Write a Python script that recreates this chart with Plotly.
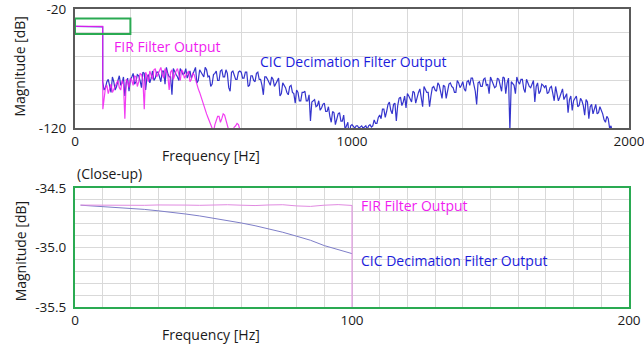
import plotly.graph_objects as go

# ---- passband (0-100 Hz), shown in both panels ----
pass_freq = [2, 5, 10, 15, 20, 25, 30, 35, 40, 45, 50, 55, 60, 65, 70, 75, 80, 85, 90, 95, 100]
fir_pass = [-34.645, -34.646, -34.644, -34.643, -34.645, -34.647, -34.644, -34.642, -34.645, -34.647,
            -34.644, -34.642, -34.646, -34.649, -34.644, -34.642, -34.652, -34.656, -34.646, -34.641, -34.648]
cic_pass = [-34.646, -34.650, -34.657, -34.664, -34.672, -34.681, -34.693, -34.705, -34.720, -34.736,
            -34.754, -34.772, -34.795, -34.818, -34.845, -34.873, -34.906, -34.940, -34.985, -35.020, -35.052]

# ---- FIR filter output above the passband edge (5 Hz bins) ----
fir_stop_freq = [100.5] + list(range(105, 605, 5))
fir_stop = [-104,
            -95, -86, -84, -91, -87, -83, -90, -88, -85, -82, -80, -86, -88, -80, -83, -112, -79, -81, -86, -78,
            -80, -84, -76, -77, -85, -81, -74, -75, -79, -104, -73, -76, -81, -72, -75, -79, -71, -70, -77, -74,
            -72, -69, -75, -78, -70, -72, -76, -88, -73, -71, -79, -75, -72, -70, -76, -80, -71, -73, -78, -76,
            -74, -72, -81, -79, -74, -75, -79, -84, -87, -90, -94, -97, -100, -104, -108, -111, -114, -118, -121, -123,
            -117, -113, -110, -110, -115, -112, -108, -109, -113, -118, -123, -126, -124, -121, -119, -118, -116, -117, -121, -125]

# ---- CIC decimation filter output above the passband edge (5 Hz bins) ----
cic_stop_freq = list(range(100, 1950, 5))
cic_stop = [
    -81, -88, -86, -81, -79, -84, -90, -77, -81, -88, -85, -80, -76, -84, -82, -77, -93, -82, -78, -89,
    -79, -77, -74, -83, -81, -75, -76, -80, -86, -73, -74, -88, -77, -75, -82, -78, -72, -80, -78, -73,
    -73, -77, -81, -72, -72, -83, -69, -74, -77, -77, -92, -70, -73, -75, -77, -80, -70, -72, -75, -74,
    -70, -78, -75, -72, -78, -75, -72, -69, -82, -80, -71, -73, -76, -77, -69, -71, -77, -76, -85, -83,
    -75, -74, -72, -80, -80, -72, -71, -77, -77, -71, -74, -86, -89, -73, -72, -76, -79, -79, -73, -72,
    -73, -78, -78, -73, -73, -85, -84, -76, -76, -80, -81, -74, -73, -79, -79, -84, -92, -77, -77, -79,
    -81, -84, -77, -79, -85, -83, -81, -78, -93, -91, -82, -84, -86, -90, -92, -85, -84, -90, -91, -99,
    -88, -90, -97, -97, -90, -90, -89, -97, -97, -92, -114, -98, -97, -96, -102, -101, -97, -105, -103, -100,
    -99, -106, -106, -102, -110, -115, -106, -107, -117, -113, -108, -107, -114, -114, -109, -121, -118, -115, -128, -118,
    -117, -119, -120, -118, -118, -120, -119, -118, -120, -119, -118, -121, -118, -117, -119, -118, -113, -116, -116, -111,
    -109, -112, -104, -104, -111, -106, -100, -98, -105, -108, -100, -99, -114, -101, -95, -94, -101, -98, -93, -103,
    -91, -93, -95, -98, -89, -90, -99, -94, -90, -87, -94, -102, -85, -88, -90, -90, -102, -93, -86, -85,
    -88, -89, -82, -84, -89, -95, -84, -85, -95, -89, -83, -82, -85, -86, -90, -90, -80, -82, -86, -84,
    -81, -87, -89, -81, -80, -84, -78, -78, -85, -89, -100, -82, -81, -85, -85, -79, -78, -84, -83, -91,
    -77, -80, -82, -86, -85, -78, -79, -83, -89, -77, -78, -91, -82, -78, -122, -81, -83, -84, -91, -77,
    -81, -83, -79, -79, -87, -90, -79, -82, -85, -86, -83, -80, -98, -85, -82, -91, -89, -83, -84, -86,
    -84, -91, -90, -86, -85, -90, -97, -85, -90, -97, -94, -91, -87, -96, -94, -91, -107, -96, -93, -105,
    -97, -95, -93, -102, -101, -95, -97, -101, -109, -96, -98, -112, -102, -100, -108, -104, -100, -108, -107, -102,
    -105, -108, -113, -115, -110, -112, -120, -118, -124, -127,
]

# axis ticks / grid
top_x_ticks = list(range(0, 2200, 200))
top_x_text = ["0", "", "", "", "", "1000", "", "", "", "", "2000"]
top_y_ticks = [-120, -100, -80, -60, -40, -20]
top_y_text = ["-120", "", "", "", "", "-20"]
bot_x_ticks = list(range(0, 210, 10))
bot_x_text = ["0"] + [""] * 9 + ["100"] + [""] * 9 + ["200"]
bot_y_ticks = [-35.5 + 0.1 * i for i in range(11)]
bot_y_text = ["-35.5"] + [""] * 4 + ["-35.0"] + [""] * 4 + ["-34.5"]

FONT = "Open Sans"
TXT = "#1a1a1a"
BLUE = "#2020c8"
MAGENTA = "#f01cf0"
GREEN = "#2aaa52"

fig = go.Figure()

# top panel: full spectrum
fig.add_trace(go.Scatter(x=pass_freq + cic_stop_freq, y=cic_pass + cic_stop,
                         mode="lines", line=dict(color=BLUE, width=1.2),
                         opacity=0.9, xaxis="x", yaxis="y", showlegend=False))
fig.add_trace(go.Scatter(x=pass_freq + fir_stop_freq, y=fir_pass + fir_stop,
                         mode="lines", line=dict(color=MAGENTA, width=1.2),
                         opacity=0.85, xaxis="x", yaxis="y", showlegend=False))

# bottom panel: passband close-up
fig.add_trace(go.Scatter(x=pass_freq, y=cic_pass, mode="lines",
                         line=dict(color="#7e7ec8", width=1),
                         xaxis="x2", yaxis="y2", showlegend=False))
fig.add_trace(go.Scatter(x=pass_freq + fir_stop_freq[:1], y=fir_pass + fir_stop[:1], mode="lines",
                         line=dict(color="#e08ae0", width=1),
                         xaxis="x2", yaxis="y2", showlegend=False))

axis_font = dict(family=FONT, size=14, color=TXT)
tick_font = dict(family=FONT, size=13.5, color=TXT)
common = dict(showgrid=True, gridcolor="#d9d9d9", gridwidth=1, zeroline=False,
              ticks="", tickfont=tick_font, tickmode="array", automargin=False,
              ticklabeloverflow="allow")

fig.update_layout(
    width=644, height=349,
    margin=dict(l=75, r=15, t=9, b=42, autoexpand=False),
    paper_bgcolor="white", plot_bgcolor="white",
    font=dict(family=FONT, size=14, color=TXT),
    xaxis=dict(domain=[0, 1], range=[0, 2000], tickvals=top_x_ticks, ticktext=top_x_text,
               anchor="y", showline=True, mirror=True, linecolor="#5a5a5a", linewidth=2, **common),
    yaxis=dict(domain=[0.6, 1], range=[-120, -20], tickvals=top_y_ticks, ticktext=top_y_text,
               anchor="x", showline=True, mirror=True, linecolor="#5a5a5a", linewidth=2,
               ticklabelstandoff=4, **common),
    xaxis2=dict(domain=[0, 1], range=[0, 200], tickvals=bot_x_ticks, ticktext=bot_x_text,
                anchor="y2", showline=True, mirror=True, linecolor=GREEN, linewidth=2, **common),
    yaxis2=dict(domain=[0, 0.4], range=[-35.5, -34.5], tickvals=bot_y_ticks, ticktext=bot_y_text,
                anchor="x2", showline=True, mirror=True, linecolor=GREEN, linewidth=2,
                ticklabelstandoff=4, **common),
)

# highlight of the passband region in the full spectrum
fig.add_shape(type="rect", xref="x", yref="y", x0=0, x1=200, y0=-41, y1=-28,
              line=dict(color=GREEN, width=2), fillcolor="rgba(0,0,0,0)")

label_font = dict(family=FONT, size=14)
ann = []
ann.append(dict(text="FIR Filter Output", x=134, y=-51.7, xref="x", yref="y",
                xanchor="left", yanchor="middle", showarrow=False,
                font=dict(label_font, color=MAGENTA)))
ann.append(dict(text="CIC Decimation Filter Output", x=661, y=-64.2, xref="x", yref="y",
                xanchor="left", yanchor="middle", showarrow=False,
                font=dict(label_font, color="#1c1cdc")))
ann.append(dict(text="FIR Filter Output", x=102.5, y=-34.65, xref="x2", yref="y2",
                xanchor="left", yanchor="middle", showarrow=False,
                font=dict(label_font, color=MAGENTA)))
ann.append(dict(text="CIC Decimation Filter Output", x=102.5, y=-35.114, xref="x2", yref="y2",
                xanchor="left", yanchor="middle", showarrow=False,
                font=dict(label_font, color="#1c1cdc")))
ann.append(dict(text="(Close-up)", x=0, y=0.449, xref="paper", yref="paper",
                xanchor="left", yanchor="middle", showarrow=False, font=axis_font))
for yy in (0.507, -0.093):
    ann.append(dict(text="Frequency [Hz]", x=0.2455, y=yy, xref="paper", yref="paper",
                    xanchor="center", yanchor="middle", showarrow=False, font=axis_font))
for yy in (0.81, 0.19):
    ann.append(dict(text="Magnitude [dB]", x=-0.0993, y=yy, xref="paper", yref="paper",
                    xanchor="center", yanchor="middle", textangle=-90, showarrow=False,
                    font=axis_font))
fig.update_layout(annotations=ann)

fig.write_html("out.html")
